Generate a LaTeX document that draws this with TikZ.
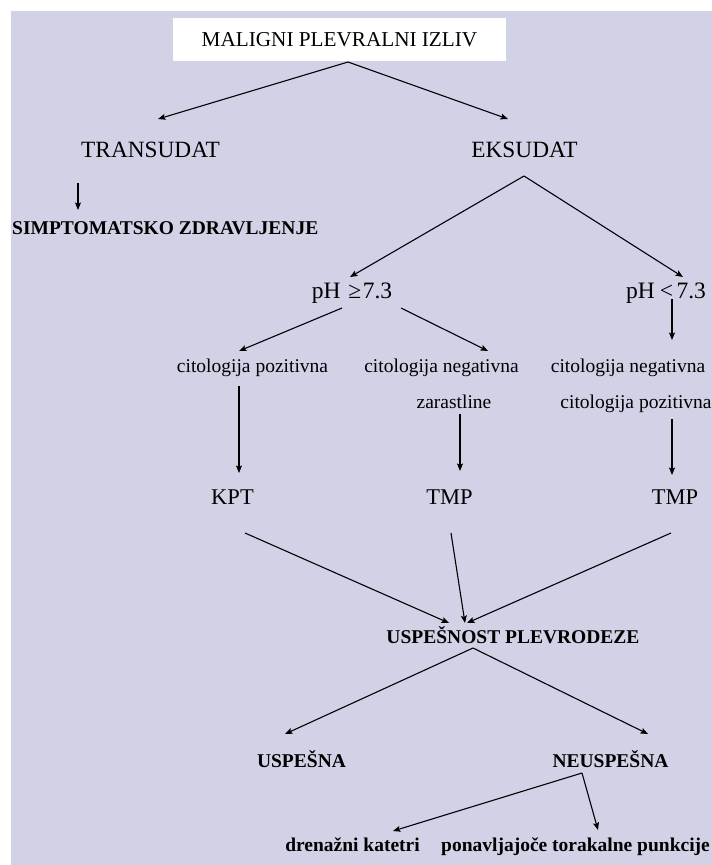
\documentclass[tikz,border=0pt]{standalone}
\usepackage{fontspec}
\setmainfont{Liberation Serif}
\usetikzlibrary{arrows.meta,calc}
\definecolor{lav}{RGB}{210,210,231}
\tikzset{
  arr/.style={line width=1.1pt,-{Stealth[length=7.5pt,width=6pt,inset=1.5pt]}},
  big/.style={anchor=base,inner sep=0pt,font=\fontsize{22.5}{27}\selectfont},
  ttxt/.style={anchor=base,inner sep=0pt,font=\fontsize{23.3}{28}\selectfont},
  phtxt/.style={anchor=base,inner sep=0pt,font=\fontsize{23.5}{28}\selectfont},
  sml/.style={anchor=base,inner sep=0pt,font=\fontsize{19.5}{23}\selectfont},
  bld/.style={anchor=base,inner sep=0pt,font=\fontsize{19.5}{23}\selectfont\bfseries},
  ttl/.style={fill=white,inner sep=0pt,minimum width=333pt,minimum height=43pt,font=\fontsize{21.2}{25}\selectfont}
}
\begin{document}
\begin{tikzpicture}[x=1pt,y=-1pt]
\useasboundingbox (0,0) rectangle (712,865);
\fill[white] (0,0) rectangle (712,865);
\fill[lav] (11,11) rectangle (712,865);
% nodes
\node[ttl] (title) at (339.5,39.5) {MALIGNI PLEVRALNI IZLIV};
\node[ttxt] (trans) at (150.5,157) {TRANSUDAT};
\node[ttxt] (eks) at (524.5,157) {EKSUDAT};
\node[bld,anchor=base west] (simp) at (12,234) {SIMPTOMATSKO ZDRAVLJENJE};
\node[phtxt] (ph1) at (352,298) {pH\hspace{8pt}≥\hspace{1.5pt}7.3};
\node[phtxt] (ph2) at (666,298) {pH\hspace{5pt}<\hspace{3.5pt}7.3};
\node[sml] (cp1) at (252.5,372) {citologija pozitivna};
\node[sml] (cn1) at (441.5,372) {citologija negativna};
\node[sml] (cn2) at (628,372) {citologija negativna};
\node[sml] (zar) at (454,408) {zarastline};
\node[sml] (cp2) at (636,408) {citologija pozitivna};
\node[big] (kpt) at (232.5,504) {KPT};
\node[big] (tmp1) at (449.5,504) {TMP};
\node[big] (tmp2) at (675,504) {TMP};
\node[bld] (usp) at (513,643) {USPEŠNOST PLEVRODEZE};
\node[bld] (uspesna) at (301.5,767) {USPEŠNA};
\node[bld] (neusp) at (610.5,767) {NEUSPEŠNA};
\node[bld] (dren) at (352.5,851) {drenažni katetri};
\node[bld] (pon) at (575.5,851) {ponavljajoče torakalne punkcije};
% connectors
\draw[arr] ($(title.center)+(8.5,22.5)$) -- ($(trans.base)+(7.5,-38)$);
\draw[arr] ($(title.center)+(8.5,22.5)$) -- ($(eks.base)+(-16.5,-38)$);
\draw[arr] ($(trans.base)+(-72.5,26)$) -- ($(simp.base west)+(66,-24)$);
\draw[arr] ($(eks.base)+(-0.5,19)$) -- ($(ph1.base)+(-2,-21)$);
\draw[arr] ($(eks.base)+(-0.5,19)$) -- ($(ph2.base)+(17,-21)$);
\draw[arr] ($(ph1.base)+(-10,10)$) -- ($(cp1.base)+(-13.5,-21)$);
\draw[arr] ($(ph1.base)+(49,10)$) -- ($(cn1.base)+(46.5,-21)$);
\draw[arr] ($(ph2.base)+(6,1)$) -- ($(cn2.base)+(44,-32)$);
\draw[arr] ($(cp1.base)+(-13.5,14)$) -- ($(kpt.base)+(6.5,-31)$);
\draw[arr] ($(zar.base)+(6,6)$) -- ($(tmp1.base)+(10.5,-33)$);
\draw[arr] ($(cp2.base)+(36,11)$) -- ($(tmp2.base)+(-3,-29)$);
\draw[arr] ($(kpt.base)+(12.5,29)$) -- ($(usp.base)+(-64,-20)$);
\draw[arr] ($(tmp1.base)+(1.5,29)$) -- ($(usp.base)+(-48,-20)$);
\draw[arr] ($(tmp2.base)+(-4,29)$) -- ($(usp.base)+(-46,-20)$);
\draw[arr] ($(usp.base)+(-40,5)$) -- ($(uspesna.base)+(-16.5,-33)$);
\draw[arr] ($(usp.base)+(-40,5)$) -- ($(neusp.base)+(37.5,-33)$);
\draw[arr] ($(neusp.base)+(-28.5,6)$) -- ($(dren.base)+(40.5,-20)$);
\draw[arr] ($(neusp.base)+(-28.5,6)$) -- ($(pon.base)+(22.5,-21)$);
\end{tikzpicture}
\end{document}
